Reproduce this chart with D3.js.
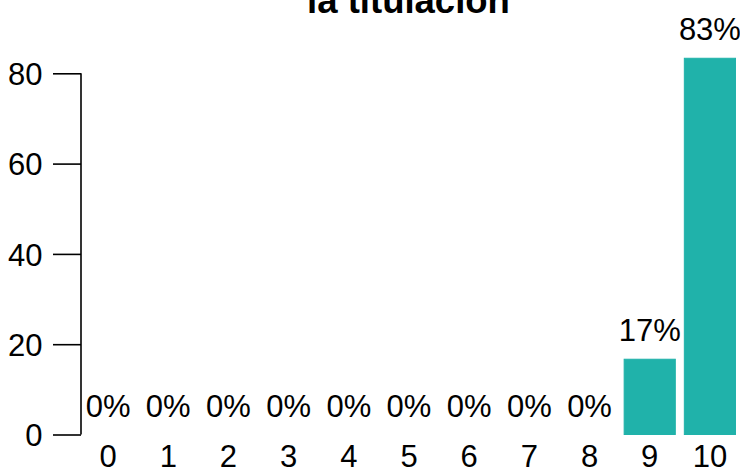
<!DOCTYPE html>
<html>
<head>
<meta charset="utf-8">
<script src="https://cdn.jsdelivr.net/npm/d3@7.9.0/dist/d3.min.js"></script>
<style>
  body { margin: 0; background: #fff; }
  text { font-family: "Liberation Sans", Arial, sans-serif; fill: #000; }
</style>
</head>
<body>
<svg id="chart" width="740" height="474"></svg>
<script>
// chart data
const categories = ['0', '1', '2', '3', '4', '5', '6', '7', '8', '9', '10'];
const values = [0, 0, 0, 0, 0, 0, 0, 0, 0, 16.67, 83.33];
const valueLabels = ['0%', '0%', '0%', '0%', '0%', '0%', '0%', '0%', '0%', '17%', '83%'];
const yTicks = [0, 20, 40, 60, 80];
const titleText = 'la titulación';

const svg = d3.select('#chart');
const barColor = '#20B2AA';
const fontSize = '31px';

const x = d3.scaleBand()
  .domain(categories)
  .range([78, 740])
  .paddingInner(0.15)
  .paddingOuter(0.075);

const y = d3.scaleLinear()
  .domain([0, 80])
  .range([434.5, 73.3]);

// title (its first line falls above the picture)
svg.append('text')
  .attr('x', 408.5)
  .attr('y', 13)
  .attr('text-anchor', 'middle')
  .style('font-size', '36.5px')
  .style('font-weight', 'bold')
  .text(titleText);

// y axis
const yAxis = svg.append('g')
  .attr('transform', 'translate(81,0)')
  .call(d3.axisLeft(y).tickValues(yTicks).tickSize(28).tickPadding(10.5));
yAxis.select('.domain').attr('d', `M0,${y(80)}V${y(0)}`).attr('stroke', '#000').attr('stroke-width', 1.6);
yAxis.selectAll('.tick line').attr('stroke', '#000').attr('stroke-width', 1.6);
yAxis.selectAll('.tick text')
  .style('font-size', fontSize)
  .style('font-family', '"Liberation Sans", Arial, sans-serif')
  .attr('dy', '0.36em');

// bars
svg.append('g').selectAll('rect')
  .data(values)
  .join('rect')
  .attr('x', (d, i) => x(categories[i]))
  .attr('y', d => y(d))
  .attr('width', x.bandwidth())
  .attr('height', d => y(0) - y(d))
  .attr('fill', barColor)
  .attr('stroke', barColor)
  .attr('stroke-width', 1);

// value labels
svg.append('g').selectAll('text')
  .data(values)
  .join('text')
  .attr('x', (d, i) => x(categories[i]) + x.bandwidth() / 2)
  .attr('y', d => y(d) - 18)
  .attr('text-anchor', 'middle')
  .style('font-size', fontSize)
  .text((d, i) => valueLabels[i]);

// x category labels
svg.append('g').selectAll('text')
  .data(categories)
  .join('text')
  .attr('x', d => x(d) + x.bandwidth() / 2)
  .attr('y', 467)
  .attr('text-anchor', 'middle')
  .style('font-size', fontSize)
  .text(d => d);
</script>
</body>
</html>
